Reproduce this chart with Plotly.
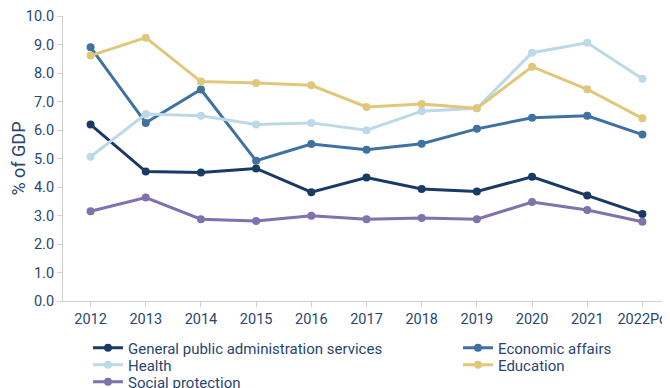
import plotly.graph_objects as go

years = ["2012", "2013", "2014", "2015", "2016", "2017", "2018", "2019", "2020", "2021", "2022Po"]
general = [6.19, 4.54, 4.51, 4.65, 3.82, 4.33, 3.93, 3.84, 4.36, 3.70, 3.05]
economic = [8.90, 6.25, 7.42, 4.92, 5.51, 5.31, 5.52, 6.04, 6.43, 6.50, 5.84]
health = [5.06, 6.56, 6.50, 6.19, 6.25, 5.99, 6.66, 6.76, 8.71, 9.06, 7.80]
education = [8.61, 9.24, 7.70, 7.65, 7.57, 6.81, 6.91, 6.76, 8.22, 7.43, 6.41]
social = [3.15, 3.63, 2.87, 2.81, 2.99, 2.87, 2.91, 2.87, 3.47, 3.19, 2.78]

series = [
    ("General public administration services", general, "#1a3a66"),
    ("Economic affairs", economic, "#3f72a0"),
    ("Health", health, "#bcd9e8"),
    ("Education", education, "#dfc87a"),
    ("Social protection", social, "#8072ad"),
]

text_color = "#2a4670"
W, H = 670, 388
OFF = 8  # default page body margin
L, T = 63 - OFF, 16 - OFF
pw, ph = 607, 285
R, B = W - L - pw, H - T - ph

# legend placement (screen pixels): left edge of item, centre y of row
leg_pos = [(88, 348), (458, 348), (88, 365), (458, 365), (88, 382)]
legend_names = ["legend", "legend2", "legend3", "legend4", "legend5"]

fig = go.Figure()
for (name, vals, col), lg in zip(series, legend_names):
    fig.add_trace(go.Scatter(
        x=years, y=vals, name=name, mode="lines+markers",
        line=dict(color=col, width=3),
        marker=dict(color=col, size=8),
        legend=lg,
    ))

legends = {}
for lg, (px, py) in zip(legend_names, leg_pos):
    fx, fy = px - OFF, py - OFF
    legends[lg] = dict(
        x=(fx - L) / pw, xanchor="left",
        y=(T + ph - fy) / ph, yanchor="middle",
        font=dict(size=15, color=text_color, family="Roboto"),
        bgcolor="rgba(0,0,0,0)", borderwidth=0,
    )

fig.update_layout(
    width=W, height=H,
    margin=dict(l=L, r=R, t=T, b=B, autoexpand=False),
    paper_bgcolor="white", plot_bgcolor="white",
    font=dict(family="Roboto", size=15, color=text_color),
    showlegend=True,
    xaxis=dict(
        type="category", range=[-0.5, 10.5],
        showline=True, linecolor="#d0d0d0", linewidth=1,
        ticks="outside", ticklen=5, tickcolor="#d0d0d0",
        showgrid=False, zeroline=False,
        tickfont=dict(size=14.5),
        ticklabeloverflow="allow",
    ),
    yaxis=dict(
        range=[0, 10], dtick=1, tickformat=".1f",
        showline=True, linecolor="#d0d0d0", linewidth=1,
        ticks="outside", ticklen=5, tickcolor="#d0d0d0",
        showgrid=False, zeroline=False,
        tickfont=dict(size=14.5),
        ticklabeloverflow="allow",
        title=dict(text="% of GDP", standoff=3),
    ),
    **legends,
)

fig.write_html(
    "out.html",
    post_script="document.documentElement.style.overflow='hidden';document.body.style.overflow='hidden';",
)
